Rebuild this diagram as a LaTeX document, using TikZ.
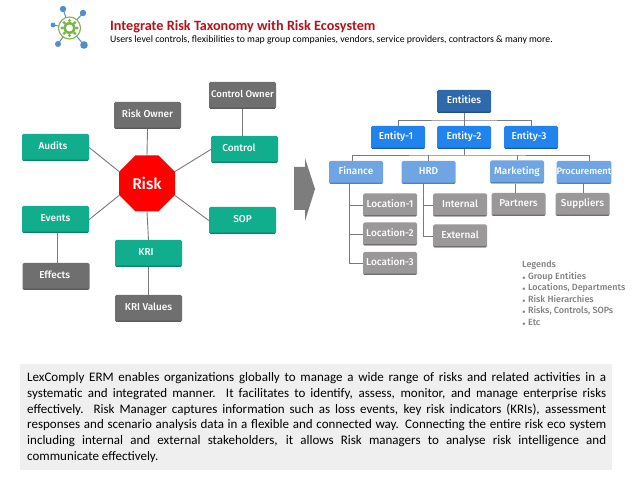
\documentclass[tikz,border=0pt]{standalone}
\usepackage{fontspec}
\setmainfont{Carlito}
\newfontfamily\boxfont{Fira Sans Medium}
\usetikzlibrary{calc}
\definecolor{tealbox}{HTML}{10AE8C}
\definecolor{tealedge}{HTML}{0B8268}
\definecolor{greybox}{HTML}{6F6F6F}
\definecolor{greyedge}{HTML}{5A5A5A}
\definecolor{navybox}{HTML}{2F69AC}
\definecolor{navyedge}{HTML}{23507F}
\definecolor{bluebox}{HTML}{2184EE}
\definecolor{blueedge}{HTML}{1A5FA8}
\definecolor{lightblue}{HTML}{6FA5E2}
\definecolor{lightedge}{HTML}{5580B0}
\definecolor{silverbox}{HTML}{9A9899}
\definecolor{silveredge}{HTML}{6F6D6E}
\definecolor{linkgrey}{HTML}{7A7A7A}
\definecolor{panel}{HTML}{EFEFEF}
\definecolor{titlered}{HTML}{B5121B}
\definecolor{legendgrey}{HTML}{7F7F7F}
\definecolor{logoblue}{HTML}{4F8FCB}
\definecolor{logogreen}{HTML}{7DB44A}
\tikzset{
  x=1pt,y=-1pt,
  boxbase/.style={rectangle,rounded corners=1.5pt,text=white,font=\boxfont\fontsize{10}{11}\selectfont,inner sep=0pt,anchor=center,text height=7pt,text depth=2.5pt},
  bigbox/.style={boxbase,minimum width=67pt,minimum height=27pt},
  smallbox/.style={boxbase,minimum width=54pt,minimum height=23pt},
  edged/.style 2 args={fill=#1,path picture={\fill[#2] ([yshift=1.3pt]path picture bounding box.south west) rectangle (path picture bounding box.south east);}},
  tealnode/.style={bigbox,edged={tealbox}{tealedge}},
  greynode/.style={bigbox,edged={greybox}{greyedge}},
  navynode/.style={smallbox,edged={navybox}{navyedge}},
  bluenode/.style={smallbox,edged={bluebox}{blueedge}},
  lightnode/.style={smallbox,edged={lightblue}{lightedge}},
  silvernode/.style={smallbox,edged={silverbox}{silveredge}},
  link/.style={draw=linkgrey,line width=.9pt},
}
\begin{document}
\begin{tikzpicture}
\useasboundingbox (0,0) rectangle (638,478);
\fill[white] (0,0) rectangle (638,478);
% logo
\coordinate (lc) at (69.5,28);
\foreach \a/\b/\r in {63/9/3.2,83/13/3.2,53/25/2.4,58/44/3,84/45/3.8}{
  \draw[logoblue,line width=1pt] (lc) -- (\a,\b);
  \fill[logoblue] (\a,\b) circle (\r);
}
\fill[white] (lc) circle (11.5);
\draw[logogreen,line width=1.1pt] (lc) circle (11);
\foreach \t in {0,45,...,315}{\fill[logogreen] ($(lc)+(\t:7.5)$) circle (1.7);}
\draw[logogreen,line width=2.6pt] (lc) circle (5);
% title
\node[anchor=west,inner sep=0pt,text=titlered,font=\fontsize{14.2}{16}\selectfont\bfseries] (title) at (110,27) {Integrate Risk Taxonomy with Risk Ecosystem};
\node[anchor=west,inner sep=0pt,font=\fontsize{9.8}{11}\selectfont] (sub) at (110,39.5) {Users level controls, flexibilities to map group companies, vendors, service providers, contractors \& many more.};
% left nodes
\node[greynode] (riskowner) at (147.5,115.5) {Risk Owner};
\node[greynode] (ctrlowner) at (242.5,95.5) {\fontsize{9.6}{11}\selectfont Control Owner};
\node[tealnode] (audits) at (55.5,147.5) {Audits\hspace*{5pt}};
\node[tealnode] (control) at (244.5,149.5) {Control\hspace*{11pt}};
\node[tealnode] (events) at (55.5,219.5) {Events};
\node[tealnode] (sop) at (242.5,220.5) {SOP};
\node[tealnode] (kri) at (148.5,253.5) {KRI\hspace*{5pt}};
\node[greynode] (effects) at (56,276.5) {Effects\hspace*{2.5pt}};
\node[greynode] (krivalues) at (148.5,308.5) {KRI Values};
\fill[red] (135.5,155.5) -- (158.5,155.5) -- (175,172) -- (175,195) -- (158.5,211.5) -- (135.5,211.5) -- (119,195) -- (119,172) -- cycle;
\node[rectangle,minimum width=56pt,minimum height=56pt,inner sep=0pt,text=white,font=\boxfont\fontsize{15.5}{18}\selectfont] (risk) at (147,183.5) {Risk};
\draw[link] (risk.north) -- (riskowner.south);
\draw[link] (ctrlowner.south) -- (ctrlowner.south|-control.north);
\coordinate (rne) at (175,171.5);
\coordinate (rnw) at (119,171.5);
\coordinate (rsw) at (119,195.5);
\coordinate (rse) at (175,195.5);
\draw[link] (control.west) -- (rne);
\draw[link] (audits.east) -- (rnw);
\draw[link] (events.east) -- (rsw);
\draw[link] (sop.west) -- (rse);
\draw[link] (risk.south) -- (kri.north);
\draw[link] (kri.south) -- (krivalues.north);
\coordinate (evx) at (57.5,0);
\draw[link] (evx|-events.south) -- (evx|-effects.north);
% arrow
\fill[greybox!90] (294,167) -- (305,167) -- (305,158) -- (315,189) -- (305,221) -- (305,210) -- (294,210) -- cycle;
% right nodes
\node[navynode] (entities) at (464,101.5) {Entities};
\node[bluenode] (e1) at (398,137.5) {Entity-1\hspace*{4pt}};
\node[bluenode] (e2) at (464,137.5) {Entity-2};
\node[bluenode] (e3) at (531,137.5) {Entity-3\hspace*{4pt}};
\node[lightnode] (fin) at (356,172.5) {Finance};
\node[lightnode] (hrd) at (428.5,172.5) {HRD};
\node[lightnode] (mkt) at (517,172) {Marketing};
\node[lightnode] (proc) at (584,172.5) {\fontsize{9.4}{11}\selectfont Procurement};
\node[silvernode] (l1) at (390,205) {Location-1};
\node[silvernode] (l2) at (390,234) {Location-2};
\node[silvernode] (l3) at (390,263.5) {Location-3};
\node[silvernode] (int) at (460,205) {Internal};
\node[silvernode] (ext) at (460,236) {External};
\node[silvernode] (part) at (518.5,204.5) {Partners};
\node[silvernode] (supp) at (582.5,204.5) {Suppliers};
\coordinate (bus1) at (464,120);
\coordinate (bus2) at (464,155);
\coordinate (fx) at (349,0);
\coordinate (hx) at (423,0);
\coordinate (mx) at (515,0);
\coordinate (px) at (583,0);
\coordinate (d1) at (352,0);
\coordinate (d2) at (589,0);
\draw[link] (e1.north) |- (bus1) -| (e3.north);
\draw[link] (entities.south) -- (e2.north);
\draw[link] (e2.south) -- (bus2);
\draw[link] (d1|-fin.north) |- (bus2) -| (d2|-proc.north);
\draw[link] (bus2-|hrd.north) -- (hrd.north);
\draw[link] (bus2-|mkt.north) -- (mkt.north);
\draw[link] (fx|-fin.south) |- (l3.west);
\draw[link] (fx|-l1.west) -- (l1.west);
\draw[link] (fx|-l2.west) -- (l2.west);
\draw[link] (hx|-hrd.south) |- (ext.west);
\draw[link] (hx|-int.west) -- (int.west);
\draw[link] (mx|-mkt.south) -- (mx|-part.north);
\draw[link] (px|-proc.south) -- (px|-supp.north);
% legend
\node[anchor=north west,inner sep=0pt,text=legendgrey,align=left,font=\boxfont\fontsize{9}{11.6}\selectfont] (legend) at (522,260.5) {Legends\\
{\tiny$\bullet$} Group Entities\\
{\tiny$\bullet$} Locations, Departments\\
{\tiny$\bullet$} Risk Hierarchies\\
{\tiny$\bullet$} Risks, Controls, SOPs\\
{\tiny$\bullet$} Etc};
% panel
\fill[panel] (20,364) rectangle (612,470);
\node[anchor=north west,inner sep=0pt,text width=579pt,align=justify,font=\fontsize{13}{15.9}\selectfont] (body) at (27,372) {LexComply ERM enables organizations globally to manage a wide range of risks and related activities in a\linebreak systematic and integrated manner. It facilitates to identify, assess, monitor, and manage enterprise risks\linebreak effectively. Risk Manager captures information such as loss events, key risk indicators (KRIs), assessment\linebreak responses and scenario analysis data in a flexible and connected way. Connecting the entire risk eco system\linebreak including internal and external stakeholders, it allows Risk managers to analyse risk intelligence and\linebreak communicate effectively.};
\end{tikzpicture}
\end{document}
